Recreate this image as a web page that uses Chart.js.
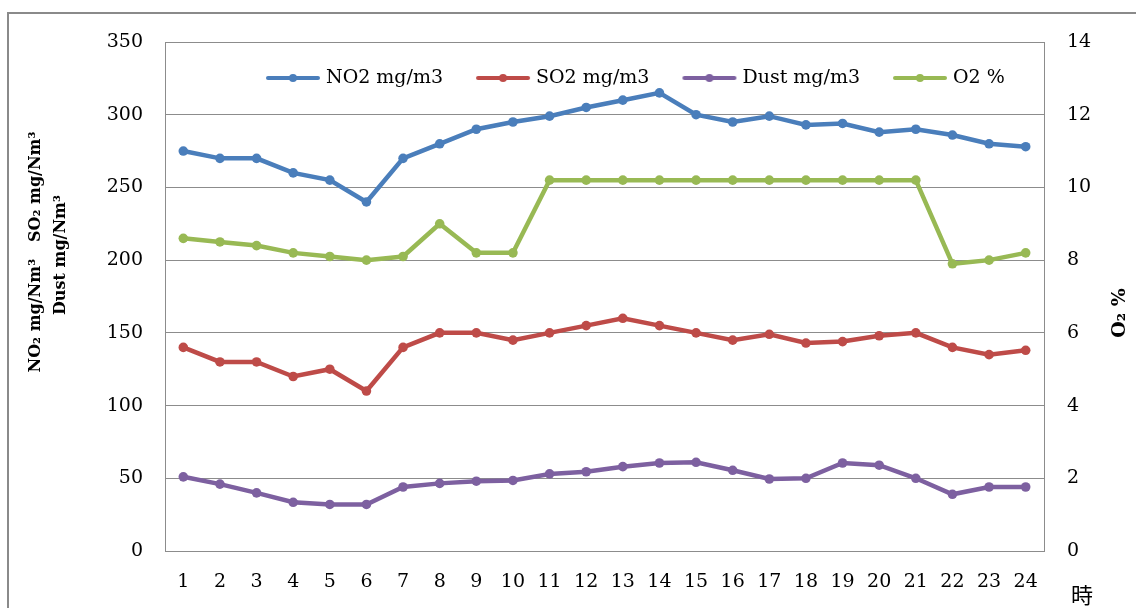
<!DOCTYPE html>
<html><head><meta charset="utf-8">
<script src="https://cdn.jsdelivr.net/npm/chart.js@4/dist/chart.umd.min.js"></script>
<style>html,body{margin:0;padding:0;background:#fff;}#wrap{width:1136px;height:608px;position:relative;}</style>
</head><body><div id="wrap"><canvas id="c" width="1136" height="608"></canvas></div>
<script>
const hours = ['1','2','3','4','5','6','7','8','9','10','11','12','13','14','15','16','17','18','19','20','21','22','23','24'];
const no2  = [275,270,270,260,255,240,270,280,290,295,299,305,310,315,300,295,299,293,294,288,290,286,280,278];
const so2  = [140,130,130,120,125,110,140,150,150,145,150,155,160,155,150,145,149,143,144,148,150,140,135,138];
const dust = [51,46,40,33.5,32,32,44,46.5,48,48.5,53,54.5,58,60.5,61,55.5,49.5,50,60.5,59,50,39,44,44];
const o2   = [8.6,8.5,8.4,8.2,8.1,8.0,8.1,9.0,8.2,8.2,10.2,10.2,10.2,10.2,10.2,10.2,10.2,10.2,10.2,10.2,10.2,7.9,8.0,8.2];
const seriesNames = ['NO2 mg/m3','SO2 mg/m3','Dust mg/m3','O2 %'];
const seriesColors = ['#4a7ebb','#be4b48','#7d60a0','#98b954'];
const leftTitle = ['NO\u2082 mg/Nm\u00b3   SO\u2082 mg/Nm\u00b3','Dust mg/Nm\u00b3'];
const rightTitle = 'O\u2082 %';
const xTitle = '時';

const SERIF = '"DejaVu Serif", serif';
const GRID = '#8c8c8c';

function legendIcon(color){
  const c = document.createElement('canvas'); c.width = 56; c.height = 12;
  const g = c.getContext('2d');
  g.strokeStyle = color; g.lineWidth = 4; g.lineCap = 'round';
  g.beginPath(); g.moveTo(3,6); g.lineTo(53,6); g.stroke();
  g.fillStyle = color; g.beginPath(); g.arc(28,6,4,0,Math.PI*2); g.fill();
  return c;
}
const icons = seriesColors.map(legendIcon);

const framePlugin = {
  id: 'frame',
  beforeDraw(chart){
    const ctx = chart.ctx; ctx.save();
    ctx.fillStyle = '#fff'; ctx.fillRect(0,0,chart.width,chart.height);
    ctx.strokeStyle = '#8a8a8a'; ctx.lineWidth = 2;
    ctx.strokeRect(8, 13, 1300, 800);
    ctx.restore();
  },
  beforeDatasetsDraw(chart){
    const ctx = chart.ctx; ctx.save();
    ctx.font = '19px ' + SERIF; ctx.fillStyle = '#000';
    ctx.textAlign = 'left'; ctx.textBaseline = 'middle';
    let x = 265; const y = 78;
    chart.data.datasets.forEach((d,i)=>{
      ctx.drawImage(icons[i], x, y - 6);
      x += 61;
      ctx.fillText(d.label, x, y);
      x += ctx.measureText(d.label).width + 32;
    });
    ctx.restore();
  },
  afterDraw(chart){
    const ctx = chart.ctx; ctx.save();
    ctx.fillStyle = '#000'; ctx.textAlign = 'center'; ctx.textBaseline = 'middle';
    ctx.font = 'bold 16px ' + SERIF;
    ctx.save(); ctx.translate(36, 252); ctx.rotate(-Math.PI/2); ctx.fillText(leftTitle[0],0,0); ctx.restore();
    ctx.save(); ctx.translate(61, 255); ctx.rotate(-Math.PI/2); ctx.fillText(leftTitle[1],0,0); ctx.restore();
    ctx.font = 'bold 19px ' + SERIF;
    ctx.save(); ctx.translate(1120, 313); ctx.rotate(-Math.PI/2); ctx.fillText(rightTitle,0,0); ctx.restore();
    ctx.font = '22px "Noto Sans CJK JP", sans-serif';
    ctx.fillText(xTitle, 1082, 595);
    ctx.restore();
  }
};

const ds = (label, data, color, axis) => ({
  label, data, yAxisID: axis,
  borderColor: color, backgroundColor: color,
  borderWidth: 4.5, tension: 0,
  pointRadius: 4.8, pointBackgroundColor: color, pointBorderWidth: 0, pointHoverRadius: 4.8
});

new Chart(document.getElementById('c'), {
  type: 'line',
  data: {
    labels: hours,
    datasets: [
      ds(seriesNames[0], no2, seriesColors[0], 'y'),
      ds(seriesNames[1], so2, seriesColors[1], 'y'),
      ds(seriesNames[2], dust, seriesColors[2], 'y'),
      ds(seriesNames[3], o2, seriesColors[3], 'y2')
    ]
  },
  options: {
    responsive: false, animation: false, devicePixelRatio: 1,
    layout: { padding: { top: 42, left: 0, right: 0, bottom: 0 } },
    plugins: {
      tooltip: { enabled: false },
      legend: { display: false }
    },
    scales: {
      x: {
        offset: true,
        grid: { display: false, drawTicks: false },
        border: { display: true, color: GRID, width: 1 },
        ticks: { color: '#000', font: { family: SERIF, size: 19 }, padding: 20, maxRotation: 0, autoSkip: false },
        afterFit(s){ s.height = 57; }
      },
      y: {
        position: 'left', min: 0, max: 350,
        grid: { color: GRID, lineWidth: 1, drawTicks: false },
        border: { display: true, color: GRID, width: 1 },
        ticks: { stepSize: 50, color: '#000', font: { family: SERIF, size: 19 }, padding: 22 },
        afterFit(s){ s.width = 165; }
      },
      y2: {
        position: 'right', min: 0, max: 14,
        grid: { display: false, drawTicks: false },
        border: { display: true, color: GRID, width: 1 },
        ticks: { stepSize: 2, color: '#000', font: { family: SERIF, size: 19 }, padding: 23 },
        afterFit(s){ s.width = 92; }
      }
    }
  },
  plugins: [framePlugin]
});
</script>
</body></html>
